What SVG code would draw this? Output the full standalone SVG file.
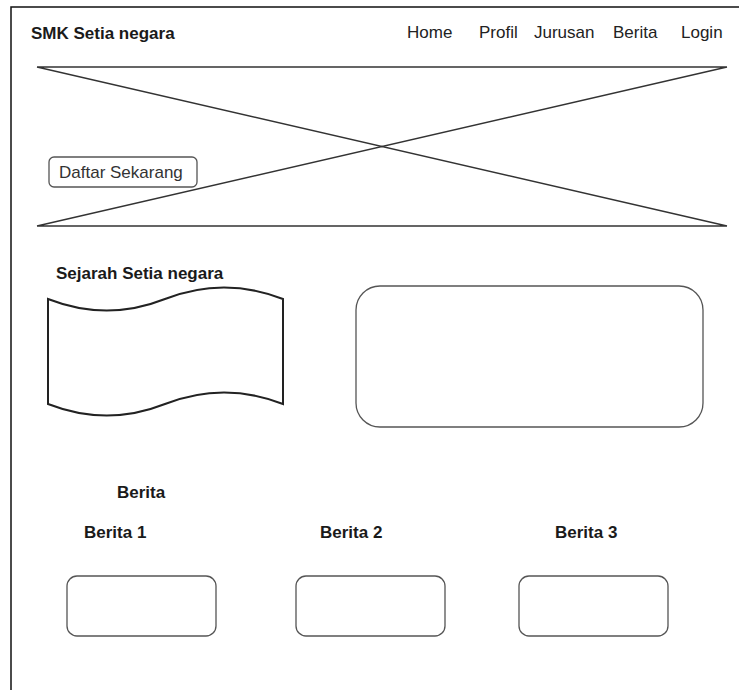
<svg xmlns="http://www.w3.org/2000/svg" width="739" height="690" viewBox="0 0 739 690">
<style>
text{font-family:"Liberation Sans",Arial,sans-serif;font-size:17px;fill:#1a1a1a}
.b{font-weight:bold}
.n{fill:#222}
.box{fill:#fff;stroke:#555;stroke-width:1.3}
.x{stroke:#333;stroke-width:1.4;fill:none}
</style>
<rect width="739" height="690" fill="#fff"/>
<g id="frame"><path d="M11,690 V7 H739" fill="none" stroke="#111" stroke-width="1.5"/></g>
<g id="header">
<text class="b" x="31" y="39">SMK Setia negara</text>
<text class="n" x="407" y="38">Home</text>
<text class="n" x="479" y="38">Profil</text>
<text class="n" x="534" y="38">Jurusan</text>
<text class="n" x="613" y="38">Berita</text>
<text class="n" x="681" y="38">Login</text>
</g>
<g id="hero">
<path class="x" d="M37,67 H727 M37,226 H727 M37,67 L727,226 M37,226 L727,67"/>
</g>
<g id="btn-daftar">
<rect x="49" y="157" width="148" height="30" rx="5" class="box"/>
<text x="59" y="178" style="fill:#333">Daftar Sekarang</text>
</g>
<g id="sejarah">
<text class="b" x="56" y="279">Sejarah Setia negara</text>
<path d="M48,299 Q107,322 165,299 Q224,276 283,299 V404 Q224,381 165,404 Q107,427 48,404 Z" fill="#fff" stroke="#222" stroke-width="2"/>
</g>
<g id="media"><rect x="356" y="286" width="347" height="141" rx="24" class="box"/></g>
<g id="berita">
<text class="b" x="117" y="498">Berita</text>
</g>
<g id="berita1">
<text class="b" x="84" y="538">Berita 1</text>
<rect x="67" y="576" width="149" height="60" rx="10" class="box"/>
</g>
<g id="berita2">
<text class="b" x="320" y="538">Berita 2</text>
<rect x="296" y="576" width="149" height="60" rx="10" class="box"/>
</g>
<g id="berita3">
<text class="b" x="555" y="538">Berita 3</text>
<rect x="519" y="576" width="149" height="60" rx="10" class="box"/>
</g>
<g id="connectors"></g>
</svg>
